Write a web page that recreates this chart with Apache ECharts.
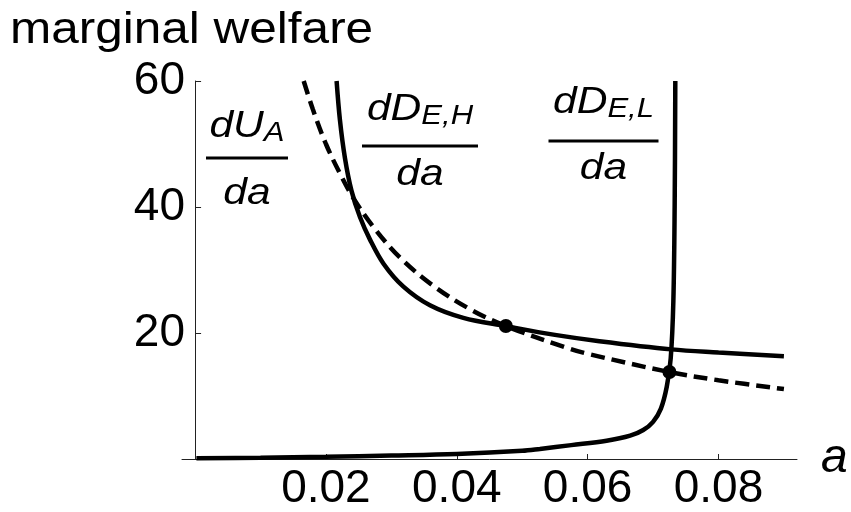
<!DOCTYPE html>
<html>
<head>
<meta charset="utf-8">
<script src="https://cdn.jsdelivr.net/npm/echarts@6/dist/echarts.min.js"></script>
<style>
html,body{margin:0;padding:0;background:#fff;}
#chart{width:851px;height:512px;}
</style>
</head>
<body>
<div id="chart"></div>
<script>
// ---- data ----
const xTicks = [0.02, 0.04, 0.06, 0.08];
const yTicks = [20, 40, 60];

// dU_A/da  (dashed)
const uaX = [0.0166, 0.018, 0.020, 0.0222, 0.0242, 0.0272, 0.0313, 0.0364, 0.042, 0.0475, 0.0567, 0.060, 0.0725, 0.080, 0.090];
const uaY = [60, 55.5, 50, 45.2, 41.4, 36.9, 32.0, 27.5, 23.8, 21.1, 17.7, 16.7, 13.8, 12.5, 11.1];

// dD_{E,H}/da  (solid, decreasing)
const ehX = [0.02163, 0.02214, 0.0229, 0.0239, 0.0252, 0.0267, 0.0288, 0.0318, 0.0359, 0.041, 0.0475, 0.055, 0.0618, 0.0728, 0.080, 0.090];
const ehY = [60, 53.8, 47.8, 42.6, 38.4, 34.9, 31.0, 27.4, 24.4, 22.4, 21.1, 19.7, 18.7, 17.4, 16.9, 16.3];

// dD_{E,L}/da  (solid, increasing)
const elX = [0.0002, 0.01, 0.02, 0.03, 0.04, 0.05, 0.0527, 0.0575, 0.0629, 0.0665, 0.0685, 0.070, 0.0712, 0.0721, 0.0727, 0.0731, 0.0733, 0.0734];
const elY = [0.1, 0.2, 0.35, 0.55, 0.8, 1.3, 1.6, 2.2, 2.9, 3.7, 4.6, 5.9, 8.0, 11.5, 16.0, 25.0, 40.0, 60];

// intersection dots
const dotX = [0.0475, 0.0725];
const dotY = [21.1, 13.8];

const zip = (xs, ys) => xs.map((x, i) => [x, ys[i]]);

const FONT = "'Liberation Sans', Arial, Helvetica, sans-serif";
const chart = echarts.init(document.getElementById('chart'), null, {renderer: 'canvas'});

const SX = 1.15; // horizontal stretch seen in the reference lettering

function fraction(cx, numRich, numY, lineY, lineHalf, denY) {
  return [
    {type: 'text', x: cx, y: numY, scaleX: SX, silent: true,
     style: {text: numRich, align: 'center', verticalAlign: 'middle', fill: '#000',
       rich: {
         i: {fontFamily: FONT, fontStyle: 'italic', fontSize: 37, lineHeight: 40, verticalAlign: 'middle', fill: '#000'},
         s: {fontFamily: FONT, fontStyle: 'italic', fontSize: 27, lineHeight: 20, verticalAlign: 'bottom', fill: '#000'}
       }}},
    {type: 'line', silent: true,
     shape: {x1: cx - lineHalf, y1: lineY, x2: cx + lineHalf, y2: lineY},
     style: {stroke: '#000', lineWidth: 3}},
    {type: 'text', x: cx, y: denY, scaleX: SX, silent: true,
     style: {text: 'da', align: 'center', verticalAlign: 'middle', fill: '#000',
       font: 'italic 37px ' + FONT}}
  ];
}

const option = {
  backgroundColor: '#fff',
  animation: false,
  grid: {left: 182, right: 54, top: 81, bottom: 52, containLabel: false},
  xAxis: {
    type: 'value', min: -0.002, max: 0.092,
    name: 'a', nameLocation: 'end', nameGap: 24,
    nameTextStyle: {fontFamily: FONT, fontStyle: 'italic', fontSize: 48, color: '#000', verticalAlign: 'middle', padding: [10, 0, 0, 0]},
    axisLine: {show: true, onZero: true, lineStyle: {color: '#222', width: 1}},
    axisTick: {show: true, inside: true, length: 5, customValues: xTicks, lineStyle: {color: '#222', width: 1}},
    axisLabel: {show: true, customValues: xTicks, margin: 7, fontFamily: FONT, fontSize: 46, color: '#000',
      formatter: v => v.toFixed(2)},
    splitLine: {show: false}
  },
  yAxis: {
    type: 'value', min: 0, max: 60, interval: 20,
    axisLine: {show: true, onZero: true, lineStyle: {color: '#222', width: 1}},
    axisTick: {show: true, inside: true, length: 6, customValues: yTicks, lineStyle: {color: '#222', width: 1}},
    axisLabel: {show: true, customValues: yTicks, margin: -3, fontFamily: FONT, fontSize: 46, color: '#000'},
    splitLine: {show: false}
  },
  series: [
    {type: 'line', name: 'dUA', data: zip(uaX, uaY), showSymbol: false, smooth: 0.35,
     lineStyle: {color: '#000', width: 4.5, type: [14, 7], cap: 'butt'}, z: 2},
    {type: 'line', name: 'dDEH', data: zip(ehX, ehY), showSymbol: false, smooth: 0.35,
     lineStyle: {color: '#000', width: 4.5}, z: 3},
    {type: 'line', name: 'dDEL', data: zip(elX, elY), showSymbol: false, smooth: 0.35,
     lineStyle: {color: '#000', width: 4.5}, z: 3},
    {type: 'scatter', name: 'dots', data: zip(dotX, dotY), symbol: 'circle', symbolSize: 14,
     itemStyle: {color: '#000', opacity: 1}, z: 5}
  ],
  graphic: [].concat(
    [{type: 'text', x: 10, y: 31, scaleX: 1.1, silent: true,
      style: {text: 'marginal welfare', align: 'left', verticalAlign: 'middle', fill: '#000',
        font: '45px ' + FONT}}],
    fraction(247, '{i|dU}{s|A}', 127, 158, 41, 194),
    fraction(420, '{i|dD}{s|E,H}', 110, 146, 58, 175),
    fraction(603.5, '{i|dD}{s|E,L}', 103, 141, 55, 169)
  )
};
chart.setOption(option);
</script>
</body>
</html>
